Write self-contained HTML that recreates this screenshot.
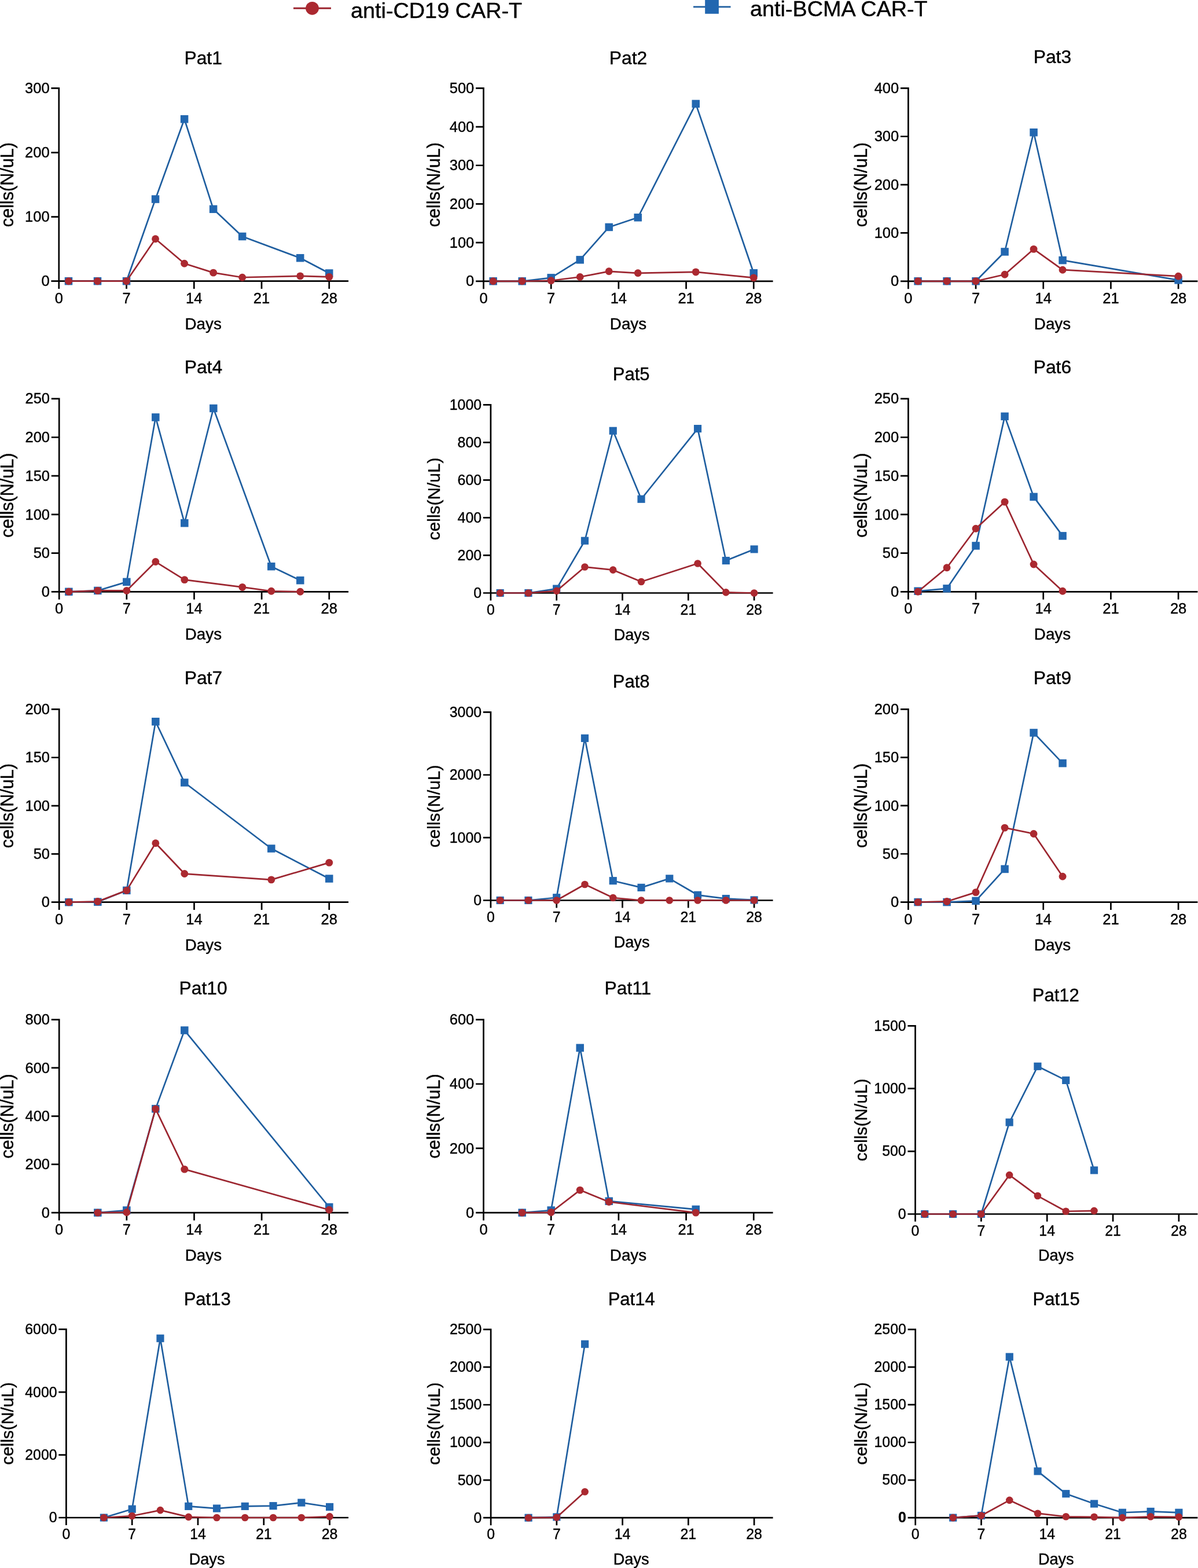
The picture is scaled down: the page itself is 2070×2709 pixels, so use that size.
<!DOCTYPE html>
<html><head><meta charset="utf-8"><title>CAR-T expansion</title>
<style>html,body{margin:0;padding:0;background:#fff;}svg{display:block;}text{stroke:#000;stroke-width:0.4px;}</style>
</head><body>
<svg width="2070" height="2709" viewBox="0 0 2070 2709" font-family='"Liberation Sans", Arial, Helvetica, sans-serif' fill="#000">
<rect width="2070" height="2709" fill="#fff"/>
<path d="M507 14.3H572" stroke="#9c2630" stroke-width="3"/>
<circle cx="539.5" cy="14.3" r="11.4" fill="#ab2930"/>
<text x="606" y="31.3" font-size="37.8">anti-CD19 CAR-T</text>
<path d="M1198 11.9H1262.5" stroke="#1f5e9f" stroke-width="2.8"/>
<rect x="1218.2" y="0" width="23.7" height="23.8" fill="#2267b0"/>
<text x="1296" y="27.5" font-size="37.8">anti-BCMA CAR-T</text>
<g>
<path d="M101.80 151.10V499.10M88.40 485.70H602.10M88.40 374.62H101.80M88.40 263.53H101.80M88.40 152.45H101.80M218.54 485.70V499.10M335.27 485.70V499.10M452.01 485.70V499.10M568.75 485.70V499.10" stroke="#000" stroke-width="2.7" fill="none"/>
<text x="85.60" y="494.30" text-anchor="end" font-size="25.50">0</text>
<text x="85.60" y="383.22" text-anchor="end" font-size="25.50">100</text>
<text x="85.60" y="272.13" text-anchor="end" font-size="25.50">200</text>
<text x="85.60" y="161.05" text-anchor="end" font-size="25.50">300</text>
<text x="101.80" y="523.70" text-anchor="middle" font-size="25.50">0</text>
<text x="218.54" y="523.70" text-anchor="middle" font-size="25.50">7</text>
<text x="335.27" y="523.70" text-anchor="middle" font-size="25.50">14</text>
<text x="452.01" y="523.70" text-anchor="middle" font-size="25.50">21</text>
<text x="568.75" y="523.70" text-anchor="middle" font-size="25.50">28</text>
<text x="318.44" y="110.70" font-size="31.80">Pat1</text>
<text x="319.52" y="568.90" font-size="27.80">Days</text>
<text transform="translate(22.80 319.07) rotate(-90)" x="0" y="0" text-anchor="middle" font-size="30.60">cells(N/uL)</text>
<polyline points="118.48,485.70 168.51,485.70 218.54,485.70 268.57,344.07 318.60,205.77 368.63,361.29 418.66,408.50 518.72,445.71 568.75,472.04" fill="none" stroke="#1f5e9f" stroke-width="2.7" stroke-linejoin="round"/>
<rect x="111.73" y="478.95" width="13.50" height="13.50" fill="#2267b0"/>
<rect x="161.76" y="478.95" width="13.50" height="13.50" fill="#2267b0"/>
<rect x="211.79" y="478.95" width="13.50" height="13.50" fill="#2267b0"/>
<rect x="261.82" y="337.32" width="13.50" height="13.50" fill="#2267b0"/>
<rect x="311.85" y="199.02" width="13.50" height="13.50" fill="#2267b0"/>
<rect x="361.88" y="354.54" width="13.50" height="13.50" fill="#2267b0"/>
<rect x="411.91" y="401.75" width="13.50" height="13.50" fill="#2267b0"/>
<rect x="511.97" y="438.96" width="13.50" height="13.50" fill="#2267b0"/>
<rect x="562.00" y="465.29" width="13.50" height="13.50" fill="#2267b0"/>
<polyline points="118.48,485.70 168.51,485.70 218.54,485.70 268.57,412.72 318.60,455.26 368.63,471.15 418.66,479.26 518.72,476.92 568.75,478.37" fill="none" stroke="#9c2630" stroke-width="2.7" stroke-linejoin="round"/>
<circle cx="118.48" cy="485.70" r="6.45" fill="#ab2930"/>
<circle cx="168.51" cy="485.70" r="6.45" fill="#ab2930"/>
<circle cx="218.54" cy="485.70" r="6.45" fill="#ab2930"/>
<circle cx="268.57" cy="412.72" r="6.45" fill="#ab2930"/>
<circle cx="318.60" cy="455.26" r="6.45" fill="#ab2930"/>
<circle cx="368.63" cy="471.15" r="6.45" fill="#ab2930"/>
<circle cx="418.66" cy="479.26" r="6.45" fill="#ab2930"/>
<circle cx="518.72" cy="476.92" r="6.45" fill="#ab2930"/>
<circle cx="568.75" cy="478.37" r="6.45" fill="#ab2930"/>
</g>
<g>
<path d="M835.50 151.05V499.20M822.10 485.80H1335.60M822.10 419.12H835.50M822.10 352.44H835.50M822.10 285.76H835.50M822.10 219.08H835.50M822.10 152.40H835.50M952.19 485.80V499.20M1068.88 485.80V499.20M1185.57 485.80V499.20M1302.26 485.80V499.20" stroke="#000" stroke-width="2.7" fill="none"/>
<text x="819.30" y="494.40" text-anchor="end" font-size="25.50">0</text>
<text x="819.30" y="427.72" text-anchor="end" font-size="25.50">100</text>
<text x="819.30" y="361.04" text-anchor="end" font-size="25.50">200</text>
<text x="819.30" y="294.36" text-anchor="end" font-size="25.50">300</text>
<text x="819.30" y="227.68" text-anchor="end" font-size="25.50">400</text>
<text x="819.30" y="161" text-anchor="end" font-size="25.50">500</text>
<text x="835.50" y="523.80" text-anchor="middle" font-size="25.50">0</text>
<text x="952.19" y="523.80" text-anchor="middle" font-size="25.50">7</text>
<text x="1068.88" y="523.80" text-anchor="middle" font-size="25.50">14</text>
<text x="1185.57" y="523.80" text-anchor="middle" font-size="25.50">21</text>
<text x="1302.26" y="523.80" text-anchor="middle" font-size="25.50">28</text>
<text x="1052.79" y="110.80" font-size="31.80">Pat2</text>
<text x="1053.82" y="568.90" font-size="27.80">Days</text>
<text transform="translate(759.70 319.10) rotate(-90)" x="0" y="0" text-anchor="middle" font-size="30.60">cells(N/uL)</text>
<polyline points="852.17,485.80 902.18,485.80 952.19,479.87 1002.20,448.86 1052.21,392.45 1102.22,375.78 1202.24,179.34 1302.26,471.80" fill="none" stroke="#1f5e9f" stroke-width="2.7" stroke-linejoin="round"/>
<rect x="845.42" y="479.05" width="13.50" height="13.50" fill="#2267b0"/>
<rect x="895.43" y="479.05" width="13.50" height="13.50" fill="#2267b0"/>
<rect x="945.44" y="473.12" width="13.50" height="13.50" fill="#2267b0"/>
<rect x="995.45" y="442.11" width="13.50" height="13.50" fill="#2267b0"/>
<rect x="1045.46" y="385.70" width="13.50" height="13.50" fill="#2267b0"/>
<rect x="1095.47" y="369.03" width="13.50" height="13.50" fill="#2267b0"/>
<rect x="1195.49" y="172.59" width="13.50" height="13.50" fill="#2267b0"/>
<rect x="1295.51" y="465.05" width="13.50" height="13.50" fill="#2267b0"/>
<polyline points="852.17,485.80 902.18,485.80 952.19,484.73 1002.20,478.47 1052.21,468.80 1102.22,471.80 1202.24,469.93 1302.26,479.87" fill="none" stroke="#9c2630" stroke-width="2.7" stroke-linejoin="round"/>
<circle cx="852.17" cy="485.80" r="6.45" fill="#ab2930"/>
<circle cx="902.18" cy="485.80" r="6.45" fill="#ab2930"/>
<circle cx="952.19" cy="484.73" r="6.45" fill="#ab2930"/>
<circle cx="1002.20" cy="478.47" r="6.45" fill="#ab2930"/>
<circle cx="1052.21" cy="468.80" r="6.45" fill="#ab2930"/>
<circle cx="1102.22" cy="471.80" r="6.45" fill="#ab2930"/>
<circle cx="1202.24" cy="469.93" r="6.45" fill="#ab2930"/>
<circle cx="1302.26" cy="479.87" r="6.45" fill="#ab2930"/>
</g>
<g>
<path d="M1569.40 151.05V499.20M1556 485.80H2069.40M1556 402.45H1569.40M1556 319.10H1569.40M1556 235.75H1569.40M1556 152.40H1569.40M1686.07 485.80V499.20M1802.73 485.80V499.20M1919.40 485.80V499.20M2036.07 485.80V499.20" stroke="#000" stroke-width="2.7" fill="none"/>
<text x="1553.20" y="494.40" text-anchor="end" font-size="25.50">0</text>
<text x="1553.20" y="411.05" text-anchor="end" font-size="25.50">100</text>
<text x="1553.20" y="327.70" text-anchor="end" font-size="25.50">200</text>
<text x="1553.20" y="244.35" text-anchor="end" font-size="25.50">300</text>
<text x="1553.20" y="161" text-anchor="end" font-size="25.50">400</text>
<text x="1569.40" y="523.80" text-anchor="middle" font-size="25.50">0</text>
<text x="1686.07" y="523.80" text-anchor="middle" font-size="25.50">7</text>
<text x="1802.73" y="523.80" text-anchor="middle" font-size="25.50">14</text>
<text x="1919.40" y="523.80" text-anchor="middle" font-size="25.50">21</text>
<text x="2036.07" y="523.80" text-anchor="middle" font-size="25.50">28</text>
<text x="1785.69" y="108.90" font-size="31.80">Pat3</text>
<text x="1786.82" y="568.90" font-size="27.80">Days</text>
<text transform="translate(1497.80 319.10) rotate(-90)" x="0" y="0" text-anchor="middle" font-size="30.60">cells(N/uL)</text>
<polyline points="1586.07,485.80 1636.07,485.80 1686.07,485.80 1736.07,434.96 1786.07,228.75 1836.07,449.63 2036.07,483.88" fill="none" stroke="#1f5e9f" stroke-width="2.7" stroke-linejoin="round"/>
<rect x="1579.32" y="479.05" width="13.50" height="13.50" fill="#2267b0"/>
<rect x="1629.32" y="479.05" width="13.50" height="13.50" fill="#2267b0"/>
<rect x="1679.32" y="479.05" width="13.50" height="13.50" fill="#2267b0"/>
<rect x="1729.32" y="428.21" width="13.50" height="13.50" fill="#2267b0"/>
<rect x="1779.32" y="222.00" width="13.50" height="13.50" fill="#2267b0"/>
<rect x="1829.32" y="442.88" width="13.50" height="13.50" fill="#2267b0"/>
<rect x="2029.32" y="477.13" width="13.50" height="13.50" fill="#2267b0"/>
<polyline points="1586.07,485.80 1636.07,485.80 1686.07,485.80 1736.07,474.30 1786.07,430.37 1836.07,466.21 2036.07,477.30" fill="none" stroke="#9c2630" stroke-width="2.7" stroke-linejoin="round"/>
<circle cx="1586.07" cy="485.80" r="6.45" fill="#ab2930"/>
<circle cx="1636.07" cy="485.80" r="6.45" fill="#ab2930"/>
<circle cx="1686.07" cy="485.80" r="6.45" fill="#ab2930"/>
<circle cx="1736.07" cy="474.30" r="6.45" fill="#ab2930"/>
<circle cx="1786.07" cy="430.37" r="6.45" fill="#ab2930"/>
<circle cx="1836.07" cy="466.21" r="6.45" fill="#ab2930"/>
<circle cx="2036.07" cy="477.30" r="6.45" fill="#ab2930"/>
</g>
<g>
<path d="M102.20 687.45V1035.70M88.80 1022.30H602.10M88.80 955.60H102.20M88.80 888.90H102.20M88.80 822.20H102.20M88.80 755.50H102.20M88.80 688.80H102.20M218.84 1022.30V1035.70M335.49 1022.30V1035.70M452.13 1022.30V1035.70M568.77 1022.30V1035.70" stroke="#000" stroke-width="2.7" fill="none"/>
<text x="86" y="1030.90" text-anchor="end" font-size="25.50">0</text>
<text x="86" y="964.20" text-anchor="end" font-size="25.50">50</text>
<text x="86" y="897.50" text-anchor="end" font-size="25.50">100</text>
<text x="86" y="830.80" text-anchor="end" font-size="25.50">150</text>
<text x="86" y="764.10" text-anchor="end" font-size="25.50">200</text>
<text x="86" y="697.40" text-anchor="end" font-size="25.50">250</text>
<text x="102.20" y="1060.30" text-anchor="middle" font-size="25.50">0</text>
<text x="218.84" y="1060.30" text-anchor="middle" font-size="25.50">7</text>
<text x="335.49" y="1060.30" text-anchor="middle" font-size="25.50">14</text>
<text x="452.13" y="1060.30" text-anchor="middle" font-size="25.50">21</text>
<text x="568.77" y="1060.30" text-anchor="middle" font-size="25.50">28</text>
<text x="318.69" y="644.80" font-size="31.80">Pat4</text>
<text x="319.72" y="1104.60" font-size="27.80">Days</text>
<text transform="translate(22.80 855.55) rotate(-90)" x="0" y="0" text-anchor="middle" font-size="30.60">cells(N/uL)</text>
<polyline points="118.86,1022.30 168.85,1020.43 218.84,1005.36 268.83,720.95 318.82,903.71 368.81,705.47 468.79,978.68 518.78,1002.69" fill="none" stroke="#1f5e9f" stroke-width="2.7" stroke-linejoin="round"/>
<rect x="112.11" y="1015.55" width="13.50" height="13.50" fill="#2267b0"/>
<rect x="162.10" y="1013.68" width="13.50" height="13.50" fill="#2267b0"/>
<rect x="212.09" y="998.61" width="13.50" height="13.50" fill="#2267b0"/>
<rect x="262.08" y="714.20" width="13.50" height="13.50" fill="#2267b0"/>
<rect x="312.07" y="896.96" width="13.50" height="13.50" fill="#2267b0"/>
<rect x="362.06" y="698.72" width="13.50" height="13.50" fill="#2267b0"/>
<rect x="462.04" y="971.93" width="13.50" height="13.50" fill="#2267b0"/>
<rect x="512.03" y="995.94" width="13.50" height="13.50" fill="#2267b0"/>
<polyline points="118.86,1022.30 168.85,1020.43 218.84,1020.43 268.83,970.54 318.82,1001.62 418.80,1014.43 468.79,1021.23 518.78,1022.30" fill="none" stroke="#9c2630" stroke-width="2.7" stroke-linejoin="round"/>
<circle cx="118.86" cy="1022.30" r="6.45" fill="#ab2930"/>
<circle cx="168.85" cy="1020.43" r="6.45" fill="#ab2930"/>
<circle cx="218.84" cy="1020.43" r="6.45" fill="#ab2930"/>
<circle cx="268.83" cy="970.54" r="6.45" fill="#ab2930"/>
<circle cx="318.82" cy="1001.62" r="6.45" fill="#ab2930"/>
<circle cx="418.80" cy="1014.43" r="6.45" fill="#ab2930"/>
<circle cx="468.79" cy="1021.23" r="6.45" fill="#ab2930"/>
<circle cx="518.78" cy="1022.30" r="6.45" fill="#ab2930"/>
</g>
<g>
<path d="M847.90 697.95V1037.58M834.82 1024.50H1335.60M834.82 959.46H847.90M834.82 894.42H847.90M834.82 829.38H847.90M834.82 764.34H847.90M834.82 699.30H847.90M961.70 1024.50V1037.58M1075.49 1024.50V1037.58M1189.29 1024.50V1037.58M1303.09 1024.50V1037.58" stroke="#000" stroke-width="2.7" fill="none"/>
<text x="832.09" y="1032.89" text-anchor="end" font-size="24.89">0</text>
<text x="832.09" y="967.85" text-anchor="end" font-size="24.89">200</text>
<text x="832.09" y="902.81" text-anchor="end" font-size="24.89">400</text>
<text x="832.09" y="837.77" text-anchor="end" font-size="24.89">600</text>
<text x="832.09" y="772.73" text-anchor="end" font-size="24.89">800</text>
<text x="832.09" y="707.69" text-anchor="end" font-size="24.89">1000</text>
<text x="847.90" y="1061.59" text-anchor="middle" font-size="24.89">0</text>
<text x="961.70" y="1061.59" text-anchor="middle" font-size="24.89">7</text>
<text x="1075.49" y="1061.59" text-anchor="middle" font-size="24.89">14</text>
<text x="1189.29" y="1061.59" text-anchor="middle" font-size="24.89">21</text>
<text x="1303.09" y="1061.59" text-anchor="middle" font-size="24.89">28</text>
<text x="1058.75" y="656.70" font-size="31.04">Pat5</text>
<text x="1060.68" y="1105.70" font-size="27.13">Days</text>
<text transform="translate(759.70 861.90) rotate(-90)" x="0" y="0" text-anchor="middle" font-size="29.87">cells(N/uL)</text>
<polyline points="864.16,1024.50 912.93,1024.50 961.70,1017.12 1010.47,934.22 1059.24,744.28 1108.01,862.26 1205.55,740.60 1254.32,968.57 1303.09,948.89" fill="none" stroke="#1f5e9f" stroke-width="2.7" stroke-linejoin="round"/>
<rect x="857.57" y="1017.91" width="13.18" height="13.18" fill="#2267b0"/>
<rect x="906.34" y="1017.91" width="13.18" height="13.18" fill="#2267b0"/>
<rect x="955.11" y="1010.53" width="13.18" height="13.18" fill="#2267b0"/>
<rect x="1003.88" y="927.64" width="13.18" height="13.18" fill="#2267b0"/>
<rect x="1052.65" y="737.69" width="13.18" height="13.18" fill="#2267b0"/>
<rect x="1101.42" y="855.67" width="13.18" height="13.18" fill="#2267b0"/>
<rect x="1198.96" y="734.01" width="13.18" height="13.18" fill="#2267b0"/>
<rect x="1247.73" y="961.98" width="13.18" height="13.18" fill="#2267b0"/>
<rect x="1296.50" y="942.30" width="13.18" height="13.18" fill="#2267b0"/>
<polyline points="864.16,1024.50 912.93,1024.50 961.70,1020.92 1010.47,979.43 1059.24,984.63 1108.01,1004.99 1205.55,973.54 1254.32,1023.39 1303.09,1024.50" fill="none" stroke="#9c2630" stroke-width="2.7" stroke-linejoin="round"/>
<circle cx="864.16" cy="1024.50" r="6.30" fill="#ab2930"/>
<circle cx="912.93" cy="1024.50" r="6.30" fill="#ab2930"/>
<circle cx="961.70" cy="1020.92" r="6.30" fill="#ab2930"/>
<circle cx="1010.47" cy="979.43" r="6.30" fill="#ab2930"/>
<circle cx="1059.24" cy="984.63" r="6.30" fill="#ab2930"/>
<circle cx="1108.01" cy="1004.99" r="6.30" fill="#ab2930"/>
<circle cx="1205.55" cy="973.54" r="6.30" fill="#ab2930"/>
<circle cx="1254.32" cy="1023.39" r="6.30" fill="#ab2930"/>
<circle cx="1303.09" cy="1024.50" r="6.30" fill="#ab2930"/>
</g>
<g>
<path d="M1569.40 687.45V1035.70M1556 1022.30H2069.40M1556 955.60H1569.40M1556 888.90H1569.40M1556 822.20H1569.40M1556 755.50H1569.40M1556 688.80H1569.40M1686.07 1022.30V1035.70M1802.73 1022.30V1035.70M1919.40 1022.30V1035.70M2036.07 1022.30V1035.70" stroke="#000" stroke-width="2.7" fill="none"/>
<text x="1553.20" y="1030.90" text-anchor="end" font-size="25.50">0</text>
<text x="1553.20" y="964.20" text-anchor="end" font-size="25.50">50</text>
<text x="1553.20" y="897.50" text-anchor="end" font-size="25.50">100</text>
<text x="1553.20" y="830.80" text-anchor="end" font-size="25.50">150</text>
<text x="1553.20" y="764.10" text-anchor="end" font-size="25.50">200</text>
<text x="1553.20" y="697.40" text-anchor="end" font-size="25.50">250</text>
<text x="1569.40" y="1060.30" text-anchor="middle" font-size="25.50">0</text>
<text x="1686.07" y="1060.30" text-anchor="middle" font-size="25.50">7</text>
<text x="1802.73" y="1060.30" text-anchor="middle" font-size="25.50">14</text>
<text x="1919.40" y="1060.30" text-anchor="middle" font-size="25.50">21</text>
<text x="2036.07" y="1060.30" text-anchor="middle" font-size="25.50">28</text>
<text x="1785.69" y="644.80" font-size="31.80">Pat6</text>
<text x="1786.82" y="1104.60" font-size="27.80">Days</text>
<text transform="translate(1497.80 855.55) rotate(-90)" x="0" y="0" text-anchor="middle" font-size="30.60">cells(N/uL)</text>
<polyline points="1586.07,1021.23 1636.07,1016.83 1686.07,942.93 1736.07,719.35 1786.07,858.35 1836.07,925.85" fill="none" stroke="#1f5e9f" stroke-width="2.7" stroke-linejoin="round"/>
<rect x="1579.32" y="1014.48" width="13.50" height="13.50" fill="#2267b0"/>
<rect x="1629.32" y="1010.08" width="13.50" height="13.50" fill="#2267b0"/>
<rect x="1679.32" y="936.18" width="13.50" height="13.50" fill="#2267b0"/>
<rect x="1729.32" y="712.60" width="13.50" height="13.50" fill="#2267b0"/>
<rect x="1779.32" y="851.60" width="13.50" height="13.50" fill="#2267b0"/>
<rect x="1829.32" y="919.10" width="13.50" height="13.50" fill="#2267b0"/>
<polyline points="1586.07,1022.30 1636.07,980.81 1686.07,913.31 1736.07,867.16 1786.07,974.94 1836.07,1021.23" fill="none" stroke="#9c2630" stroke-width="2.7" stroke-linejoin="round"/>
<circle cx="1586.07" cy="1022.30" r="6.45" fill="#ab2930"/>
<circle cx="1636.07" cy="980.81" r="6.45" fill="#ab2930"/>
<circle cx="1686.07" cy="913.31" r="6.45" fill="#ab2930"/>
<circle cx="1736.07" cy="867.16" r="6.45" fill="#ab2930"/>
<circle cx="1786.07" cy="974.94" r="6.45" fill="#ab2930"/>
<circle cx="1836.07" cy="1021.23" r="6.45" fill="#ab2930"/>
</g>
<g>
<path d="M102.20 1224.05V1572.10M88.80 1558.70H602.10M88.80 1475.38H102.20M88.80 1392.05H102.20M88.80 1308.73H102.20M88.80 1225.40H102.20M218.84 1558.70V1572.10M335.49 1558.70V1572.10M452.13 1558.70V1572.10M568.77 1558.70V1572.10" stroke="#000" stroke-width="2.7" fill="none"/>
<text x="86" y="1567.30" text-anchor="end" font-size="25.50">0</text>
<text x="86" y="1483.97" text-anchor="end" font-size="25.50">50</text>
<text x="86" y="1400.65" text-anchor="end" font-size="25.50">100</text>
<text x="86" y="1317.33" text-anchor="end" font-size="25.50">150</text>
<text x="86" y="1234" text-anchor="end" font-size="25.50">200</text>
<text x="102.20" y="1596.70" text-anchor="middle" font-size="25.50">0</text>
<text x="218.84" y="1596.70" text-anchor="middle" font-size="25.50">7</text>
<text x="335.49" y="1596.70" text-anchor="middle" font-size="25.50">14</text>
<text x="452.13" y="1596.70" text-anchor="middle" font-size="25.50">21</text>
<text x="568.77" y="1596.70" text-anchor="middle" font-size="25.50">28</text>
<text x="318.69" y="1181.50" font-size="31.80">Pat7</text>
<text x="319.72" y="1641.60" font-size="27.80">Days</text>
<text transform="translate(22.80 1392.05) rotate(-90)" x="0" y="0" text-anchor="middle" font-size="30.60">cells(N/uL)</text>
<polyline points="118.86,1558.70 168.85,1558.20 218.84,1538.37 268.83,1246.73 318.82,1352.05 468.79,1466.04 568.77,1518.04" fill="none" stroke="#1f5e9f" stroke-width="2.7" stroke-linejoin="round"/>
<rect x="112.11" y="1551.95" width="13.50" height="13.50" fill="#2267b0"/>
<rect x="162.10" y="1551.45" width="13.50" height="13.50" fill="#2267b0"/>
<rect x="212.09" y="1531.62" width="13.50" height="13.50" fill="#2267b0"/>
<rect x="262.08" y="1239.98" width="13.50" height="13.50" fill="#2267b0"/>
<rect x="312.07" y="1345.30" width="13.50" height="13.50" fill="#2267b0"/>
<rect x="462.04" y="1459.29" width="13.50" height="13.50" fill="#2267b0"/>
<rect x="562.02" y="1511.29" width="13.50" height="13.50" fill="#2267b0"/>
<polyline points="118.86,1558.70 168.85,1557.53 218.84,1538.37 268.83,1456.71 318.82,1509.54 468.79,1519.87 568.77,1490.37" fill="none" stroke="#9c2630" stroke-width="2.7" stroke-linejoin="round"/>
<circle cx="118.86" cy="1558.70" r="6.45" fill="#ab2930"/>
<circle cx="168.85" cy="1557.53" r="6.45" fill="#ab2930"/>
<circle cx="218.84" cy="1538.37" r="6.45" fill="#ab2930"/>
<circle cx="268.83" cy="1456.71" r="6.45" fill="#ab2930"/>
<circle cx="318.82" cy="1509.54" r="6.45" fill="#ab2930"/>
<circle cx="468.79" cy="1519.87" r="6.45" fill="#ab2930"/>
<circle cx="568.77" cy="1490.37" r="6.45" fill="#ab2930"/>
</g>
<g>
<path d="M847.90 1229.05V1568.58M834.82 1555.50H1335.60M834.82 1447.13H847.90M834.82 1338.77H847.90M834.82 1230.40H847.90M961.70 1555.50V1568.58M1075.49 1555.50V1568.58M1189.29 1555.50V1568.58M1303.09 1555.50V1568.58" stroke="#000" stroke-width="2.7" fill="none"/>
<text x="832.09" y="1563.89" text-anchor="end" font-size="24.89">0</text>
<text x="832.09" y="1455.53" text-anchor="end" font-size="24.89">1000</text>
<text x="832.09" y="1347.16" text-anchor="end" font-size="24.89">2000</text>
<text x="832.09" y="1238.79" text-anchor="end" font-size="24.89">3000</text>
<text x="847.90" y="1592.59" text-anchor="middle" font-size="24.89">0</text>
<text x="961.70" y="1592.59" text-anchor="middle" font-size="24.89">7</text>
<text x="1075.49" y="1592.59" text-anchor="middle" font-size="24.89">14</text>
<text x="1189.29" y="1592.59" text-anchor="middle" font-size="24.89">21</text>
<text x="1303.09" y="1592.59" text-anchor="middle" font-size="24.89">28</text>
<text x="1058.75" y="1187.60" font-size="31.04">Pat8</text>
<text x="1060.68" y="1636.80" font-size="27.13">Days</text>
<text transform="translate(759.70 1392.95) rotate(-90)" x="0" y="0" text-anchor="middle" font-size="29.87">cells(N/uL)</text>
<polyline points="864.16,1555.50 912.93,1555.50 961.70,1550.73 1010.47,1275.37 1059.24,1521.69 1108.01,1533.39 1156.78,1517.90 1205.55,1546.29 1254.32,1552.57 1303.09,1554.96" fill="none" stroke="#1f5e9f" stroke-width="2.7" stroke-linejoin="round"/>
<rect x="857.57" y="1548.91" width="13.18" height="13.18" fill="#2267b0"/>
<rect x="906.34" y="1548.91" width="13.18" height="13.18" fill="#2267b0"/>
<rect x="955.11" y="1544.14" width="13.18" height="13.18" fill="#2267b0"/>
<rect x="1003.88" y="1268.78" width="13.18" height="13.18" fill="#2267b0"/>
<rect x="1052.65" y="1515.10" width="13.18" height="13.18" fill="#2267b0"/>
<rect x="1101.42" y="1526.81" width="13.18" height="13.18" fill="#2267b0"/>
<rect x="1150.19" y="1511.31" width="13.18" height="13.18" fill="#2267b0"/>
<rect x="1198.96" y="1539.70" width="13.18" height="13.18" fill="#2267b0"/>
<rect x="1247.73" y="1545.99" width="13.18" height="13.18" fill="#2267b0"/>
<rect x="1296.50" y="1548.37" width="13.18" height="13.18" fill="#2267b0"/>
<polyline points="864.16,1555.50 912.93,1555.50 961.70,1555.50 1010.47,1527.97 1059.24,1551.06 1108.01,1555.50 1156.78,1555.50 1205.55,1555.50 1254.32,1555.50 1303.09,1555.50" fill="none" stroke="#9c2630" stroke-width="2.7" stroke-linejoin="round"/>
<circle cx="864.16" cy="1555.50" r="6.30" fill="#ab2930"/>
<circle cx="912.93" cy="1555.50" r="6.30" fill="#ab2930"/>
<circle cx="961.70" cy="1555.50" r="6.30" fill="#ab2930"/>
<circle cx="1010.47" cy="1527.97" r="6.30" fill="#ab2930"/>
<circle cx="1059.24" cy="1551.06" r="6.30" fill="#ab2930"/>
<circle cx="1108.01" cy="1555.50" r="6.30" fill="#ab2930"/>
<circle cx="1156.78" cy="1555.50" r="6.30" fill="#ab2930"/>
<circle cx="1205.55" cy="1555.50" r="6.30" fill="#ab2930"/>
<circle cx="1254.32" cy="1555.50" r="6.30" fill="#ab2930"/>
<circle cx="1303.09" cy="1555.50" r="6.30" fill="#ab2930"/>
</g>
<g>
<path d="M1569.40 1223.95V1572M1556 1558.60H2069.40M1556 1475.27H1569.40M1556 1391.95H1569.40M1556 1308.62H1569.40M1556 1225.30H1569.40M1686.07 1558.60V1572M1802.73 1558.60V1572M1919.40 1558.60V1572M2036.07 1558.60V1572" stroke="#000" stroke-width="2.7" fill="none"/>
<text x="1553.20" y="1567.20" text-anchor="end" font-size="25.50">0</text>
<text x="1553.20" y="1483.87" text-anchor="end" font-size="25.50">50</text>
<text x="1553.20" y="1400.55" text-anchor="end" font-size="25.50">100</text>
<text x="1553.20" y="1317.22" text-anchor="end" font-size="25.50">150</text>
<text x="1553.20" y="1233.90" text-anchor="end" font-size="25.50">200</text>
<text x="1569.40" y="1596.60" text-anchor="middle" font-size="25.50">0</text>
<text x="1686.07" y="1596.60" text-anchor="middle" font-size="25.50">7</text>
<text x="1802.73" y="1596.60" text-anchor="middle" font-size="25.50">14</text>
<text x="1919.40" y="1596.60" text-anchor="middle" font-size="25.50">21</text>
<text x="2036.07" y="1596.60" text-anchor="middle" font-size="25.50">28</text>
<text x="1785.69" y="1181.50" font-size="31.80">Pat9</text>
<text x="1786.82" y="1641.60" font-size="27.80">Days</text>
<text transform="translate(1497.80 1391.95) rotate(-90)" x="0" y="0" text-anchor="middle" font-size="30.60">cells(N/uL)</text>
<polyline points="1586.07,1558.60 1636.07,1558.60 1686.07,1556.43 1736.07,1501.44 1786.07,1265.96 1836.07,1318.62" fill="none" stroke="#1f5e9f" stroke-width="2.7" stroke-linejoin="round"/>
<rect x="1579.32" y="1551.85" width="13.50" height="13.50" fill="#2267b0"/>
<rect x="1629.32" y="1551.85" width="13.50" height="13.50" fill="#2267b0"/>
<rect x="1679.32" y="1549.68" width="13.50" height="13.50" fill="#2267b0"/>
<rect x="1729.32" y="1494.69" width="13.50" height="13.50" fill="#2267b0"/>
<rect x="1779.32" y="1259.21" width="13.50" height="13.50" fill="#2267b0"/>
<rect x="1829.32" y="1311.87" width="13.50" height="13.50" fill="#2267b0"/>
<polyline points="1586.07,1558.60 1636.07,1557.43 1686.07,1541.60 1736.07,1430.11 1786.07,1440.45 1836.07,1514.27" fill="none" stroke="#9c2630" stroke-width="2.7" stroke-linejoin="round"/>
<circle cx="1586.07" cy="1558.60" r="6.45" fill="#ab2930"/>
<circle cx="1636.07" cy="1557.43" r="6.45" fill="#ab2930"/>
<circle cx="1686.07" cy="1541.60" r="6.45" fill="#ab2930"/>
<circle cx="1736.07" cy="1430.11" r="6.45" fill="#ab2930"/>
<circle cx="1786.07" cy="1440.45" r="6.45" fill="#ab2930"/>
<circle cx="1836.07" cy="1514.27" r="6.45" fill="#ab2930"/>
</g>
<g>
<path d="M102.20 1760.25V2108.50M88.80 2095.10H602.10M88.80 2011.72H102.20M88.80 1928.35H102.20M88.80 1844.97H102.20M88.80 1761.60H102.20M218.84 2095.10V2108.50M335.49 2095.10V2108.50M452.13 2095.10V2108.50M568.77 2095.10V2108.50" stroke="#000" stroke-width="2.7" fill="none"/>
<text x="86" y="2103.70" text-anchor="end" font-size="25.50">0</text>
<text x="86" y="2020.32" text-anchor="end" font-size="25.50">200</text>
<text x="86" y="1936.95" text-anchor="end" font-size="25.50">400</text>
<text x="86" y="1853.57" text-anchor="end" font-size="25.50">600</text>
<text x="86" y="1770.20" text-anchor="end" font-size="25.50">800</text>
<text x="102.20" y="2133.10" text-anchor="middle" font-size="25.50">0</text>
<text x="218.84" y="2133.10" text-anchor="middle" font-size="25.50">7</text>
<text x="335.49" y="2133.10" text-anchor="middle" font-size="25.50">14</text>
<text x="452.13" y="2133.10" text-anchor="middle" font-size="25.50">21</text>
<text x="568.77" y="2133.10" text-anchor="middle" font-size="25.50">28</text>
<text x="309.49" y="1717.70" font-size="31.80">Pat10</text>
<text x="319.72" y="2177.70" font-size="27.80">Days</text>
<text transform="translate(22.80 1928.35) rotate(-90)" x="0" y="0" text-anchor="middle" font-size="30.60">cells(N/uL)</text>
<polyline points="168.85,2095.10 218.84,2091.01 268.83,1915.64 318.82,1780.03 568.77,2085.51" fill="none" stroke="#1f5e9f" stroke-width="2.7" stroke-linejoin="round"/>
<rect x="162.10" y="2088.35" width="13.50" height="13.50" fill="#2267b0"/>
<rect x="212.09" y="2084.26" width="13.50" height="13.50" fill="#2267b0"/>
<rect x="262.08" y="1908.89" width="13.50" height="13.50" fill="#2267b0"/>
<rect x="312.07" y="1773.28" width="13.50" height="13.50" fill="#2267b0"/>
<rect x="562.02" y="2078.76" width="13.50" height="13.50" fill="#2267b0"/>
<polyline points="168.85,2095.10 218.84,2094.47 268.83,1915.84 318.82,2020.15 568.77,2090.31" fill="none" stroke="#9c2630" stroke-width="2.7" stroke-linejoin="round"/>
<circle cx="168.85" cy="2095.10" r="6.45" fill="#ab2930"/>
<circle cx="218.84" cy="2094.47" r="6.45" fill="#ab2930"/>
<circle cx="268.83" cy="1915.84" r="6.45" fill="#ab2930"/>
<circle cx="318.82" cy="2020.15" r="6.45" fill="#ab2930"/>
<circle cx="568.77" cy="2090.31" r="6.45" fill="#ab2930"/>
</g>
<g>
<path d="M835.50 1760.25V2108.50M822.10 2095.10H1335.60M822.10 1983.93H835.50M822.10 1872.77H835.50M822.10 1761.60H835.50M952.19 2095.10V2108.50M1068.88 2095.10V2108.50M1185.57 2095.10V2108.50M1302.26 2095.10V2108.50" stroke="#000" stroke-width="2.7" fill="none"/>
<text x="819.30" y="2103.70" text-anchor="end" font-size="25.50">0</text>
<text x="819.30" y="1992.53" text-anchor="end" font-size="25.50">200</text>
<text x="819.30" y="1881.37" text-anchor="end" font-size="25.50">400</text>
<text x="819.30" y="1770.20" text-anchor="end" font-size="25.50">600</text>
<text x="835.50" y="2133.10" text-anchor="middle" font-size="25.50">0</text>
<text x="952.19" y="2133.10" text-anchor="middle" font-size="25.50">7</text>
<text x="1068.88" y="2133.10" text-anchor="middle" font-size="25.50">14</text>
<text x="1185.57" y="2133.10" text-anchor="middle" font-size="25.50">21</text>
<text x="1302.26" y="2133.10" text-anchor="middle" font-size="25.50">28</text>
<text x="1044.49" y="1717.70" font-size="31.80">Pat11</text>
<text x="1053.82" y="2177.70" font-size="27.80">Days</text>
<text transform="translate(759.70 1928.35) rotate(-90)" x="0" y="0" text-anchor="middle" font-size="30.60">cells(N/uL)</text>
<polyline points="902.18,2095.10 952.19,2090.99 1002.20,1810.35 1052.21,2075.20 1202.24,2089.43" fill="none" stroke="#1f5e9f" stroke-width="2.7" stroke-linejoin="round"/>
<rect x="895.43" y="2088.35" width="13.50" height="13.50" fill="#2267b0"/>
<rect x="945.44" y="2084.24" width="13.50" height="13.50" fill="#2267b0"/>
<rect x="995.45" y="1803.60" width="13.50" height="13.50" fill="#2267b0"/>
<rect x="1045.46" y="2068.45" width="13.50" height="13.50" fill="#2267b0"/>
<rect x="1195.49" y="2082.68" width="13.50" height="13.50" fill="#2267b0"/>
<polyline points="902.18,2095.10 952.19,2094.54 1002.20,2056.08 1052.21,2076.48 1202.24,2095.10" fill="none" stroke="#9c2630" stroke-width="2.7" stroke-linejoin="round"/>
<circle cx="902.18" cy="2095.10" r="6.45" fill="#ab2930"/>
<circle cx="952.19" cy="2094.54" r="6.45" fill="#ab2930"/>
<circle cx="1002.20" cy="2056.08" r="6.45" fill="#ab2930"/>
<circle cx="1052.21" cy="2076.48" r="6.45" fill="#ab2930"/>
<circle cx="1202.24" cy="2095.10" r="6.45" fill="#ab2930"/>
</g>
<g>
<path d="M1581.50 1770.95V2110.58M1568.42 2097.50H2069.40M1568.42 1989.10H1581.50M1568.42 1880.70H1581.50M1568.42 1772.30H1581.50M1695.34 2097.50V2110.58M1809.19 2097.50V2110.58M1923.03 2097.50V2110.58M2036.87 2097.50V2110.58" stroke="#000" stroke-width="2.7" fill="none"/>
<text x="1565.69" y="2105.89" text-anchor="end" font-size="24.89">0</text>
<text x="1565.69" y="1997.49" text-anchor="end" font-size="24.89">500</text>
<text x="1565.69" y="1889.09" text-anchor="end" font-size="24.89">1000</text>
<text x="1565.69" y="1780.69" text-anchor="end" font-size="24.89">1500</text>
<text x="1581.50" y="2134.59" text-anchor="middle" font-size="24.89">0</text>
<text x="1695.34" y="2134.59" text-anchor="middle" font-size="24.89">7</text>
<text x="1809.19" y="2134.59" text-anchor="middle" font-size="24.89">14</text>
<text x="1923.03" y="2134.59" text-anchor="middle" font-size="24.89">21</text>
<text x="2036.87" y="2134.59" text-anchor="middle" font-size="24.89">28</text>
<text x="1783.75" y="1729.90" font-size="31.04">Pat12</text>
<text x="1793.88" y="2177.70" font-size="27.13">Days</text>
<text transform="translate(1497.80 1934.90) rotate(-90)" x="0" y="0" text-anchor="middle" font-size="29.87">cells(N/uL)</text>
<polyline points="1597.76,2097.50 1646.55,2097.50 1695.34,2097.50 1744.13,1939.02 1792.92,1842.33 1841.71,1866.39 1890.50,2021.84" fill="none" stroke="#1f5e9f" stroke-width="2.7" stroke-linejoin="round"/>
<rect x="1591.18" y="2090.91" width="13.18" height="13.18" fill="#2267b0"/>
<rect x="1639.97" y="2090.91" width="13.18" height="13.18" fill="#2267b0"/>
<rect x="1688.76" y="2090.91" width="13.18" height="13.18" fill="#2267b0"/>
<rect x="1737.55" y="1932.43" width="13.18" height="13.18" fill="#2267b0"/>
<rect x="1786.34" y="1835.74" width="13.18" height="13.18" fill="#2267b0"/>
<rect x="1835.13" y="1859.80" width="13.18" height="13.18" fill="#2267b0"/>
<rect x="1883.92" y="2015.25" width="13.18" height="13.18" fill="#2267b0"/>
<polyline points="1597.76,2097.50 1646.55,2097.50 1695.34,2097.50 1744.13,2030.08 1792.92,2066.06 1841.71,2092.73 1890.50,2091.86" fill="none" stroke="#9c2630" stroke-width="2.7" stroke-linejoin="round"/>
<circle cx="1597.76" cy="2097.50" r="6.30" fill="#ab2930"/>
<circle cx="1646.55" cy="2097.50" r="6.30" fill="#ab2930"/>
<circle cx="1695.34" cy="2097.50" r="6.30" fill="#ab2930"/>
<circle cx="1744.13" cy="2030.08" r="6.30" fill="#ab2930"/>
<circle cx="1792.92" cy="2066.06" r="6.30" fill="#ab2930"/>
<circle cx="1841.71" cy="2092.73" r="6.30" fill="#ab2930"/>
<circle cx="1890.50" cy="2091.86" r="6.30" fill="#ab2930"/>
</g>
<g>
<path d="M114.40 2295.35V2635.08M101.32 2622H602.10M101.32 2513.57H114.40M101.32 2405.13H114.40M101.32 2296.70H114.40M228.20 2622V2635.08M341.99 2622V2635.08M455.79 2622V2635.08M569.59 2622V2635.08" stroke="#000" stroke-width="2.7" fill="none"/>
<text x="98.59" y="2630.39" text-anchor="end" font-size="24.89">0</text>
<text x="98.59" y="2521.96" text-anchor="end" font-size="24.89">2000</text>
<text x="98.59" y="2413.53" text-anchor="end" font-size="24.89">4000</text>
<text x="98.59" y="2305.09" text-anchor="end" font-size="24.89">6000</text>
<text x="114.40" y="2659.09" text-anchor="middle" font-size="24.89">0</text>
<text x="228.20" y="2659.09" text-anchor="middle" font-size="24.89">7</text>
<text x="341.99" y="2659.09" text-anchor="middle" font-size="24.89">14</text>
<text x="455.79" y="2659.09" text-anchor="middle" font-size="24.89">21</text>
<text x="569.59" y="2659.09" text-anchor="middle" font-size="24.89">28</text>
<text x="317.65" y="2254.90" font-size="31.04">Pat13</text>
<text x="326.68" y="2702.60" font-size="27.13">Days</text>
<text transform="translate(22.80 2459.35) rotate(-90)" x="0" y="0" text-anchor="middle" font-size="29.87">cells(N/uL)</text>
<polyline points="179.43,2622 228.20,2607.20 276.97,2312.21 325.74,2602.37 374.51,2606.06 423.28,2602.37 472.05,2601.67 520.82,2596.08 569.59,2603.46" fill="none" stroke="#1f5e9f" stroke-width="2.7" stroke-linejoin="round"/>
<rect x="172.84" y="2615.41" width="13.18" height="13.18" fill="#2267b0"/>
<rect x="221.61" y="2600.61" width="13.18" height="13.18" fill="#2267b0"/>
<rect x="270.38" y="2305.62" width="13.18" height="13.18" fill="#2267b0"/>
<rect x="319.15" y="2595.79" width="13.18" height="13.18" fill="#2267b0"/>
<rect x="367.92" y="2599.47" width="13.18" height="13.18" fill="#2267b0"/>
<rect x="416.69" y="2595.79" width="13.18" height="13.18" fill="#2267b0"/>
<rect x="465.46" y="2595.08" width="13.18" height="13.18" fill="#2267b0"/>
<rect x="514.23" y="2589.50" width="13.18" height="13.18" fill="#2267b0"/>
<rect x="563.00" y="2596.87" width="13.18" height="13.18" fill="#2267b0"/>
<polyline points="179.43,2622 228.20,2619.02 276.97,2609.10 325.74,2620.92 374.51,2622 423.28,2622 472.05,2622 520.82,2622 569.59,2620.10" fill="none" stroke="#9c2630" stroke-width="2.7" stroke-linejoin="round"/>
<circle cx="179.43" cy="2622" r="6.30" fill="#ab2930"/>
<circle cx="228.20" cy="2619.02" r="6.30" fill="#ab2930"/>
<circle cx="276.97" cy="2609.10" r="6.30" fill="#ab2930"/>
<circle cx="325.74" cy="2620.92" r="6.30" fill="#ab2930"/>
<circle cx="374.51" cy="2622" r="6.30" fill="#ab2930"/>
<circle cx="423.28" cy="2622" r="6.30" fill="#ab2930"/>
<circle cx="472.05" cy="2622" r="6.30" fill="#ab2930"/>
<circle cx="520.82" cy="2622" r="6.30" fill="#ab2930"/>
<circle cx="569.59" cy="2620.10" r="6.30" fill="#ab2930"/>
</g>
<g>
<path d="M848.10 2295.55V2635.28M835.02 2622.20H1335.60M835.02 2557.14H848.10M835.02 2492.08H848.10M835.02 2427.02H848.10M835.02 2361.96H848.10M835.02 2296.90H848.10M961.85 2622.20V2635.28M1075.60 2622.20V2635.28M1189.35 2622.20V2635.28M1303.10 2622.20V2635.28" stroke="#000" stroke-width="2.7" fill="none"/>
<text x="832.29" y="2630.59" text-anchor="end" font-size="24.89">0</text>
<text x="832.29" y="2565.53" text-anchor="end" font-size="24.89">500</text>
<text x="832.29" y="2500.47" text-anchor="end" font-size="24.89">1000</text>
<text x="832.29" y="2435.41" text-anchor="end" font-size="24.89">1500</text>
<text x="832.29" y="2370.35" text-anchor="end" font-size="24.89">2000</text>
<text x="832.29" y="2305.29" text-anchor="end" font-size="24.89">2500</text>
<text x="848.10" y="2659.29" text-anchor="middle" font-size="24.89">0</text>
<text x="961.85" y="2659.29" text-anchor="middle" font-size="24.89">7</text>
<text x="1075.60" y="2659.29" text-anchor="middle" font-size="24.89">14</text>
<text x="1189.35" y="2659.29" text-anchor="middle" font-size="24.89">21</text>
<text x="1303.10" y="2659.29" text-anchor="middle" font-size="24.89">28</text>
<text x="1050.65" y="2254.90" font-size="31.04">Pat14</text>
<text x="1059.78" y="2702.60" font-size="27.13">Days</text>
<text transform="translate(759.70 2459.55) rotate(-90)" x="0" y="0" text-anchor="middle" font-size="29.87">cells(N/uL)</text>
<polyline points="913.10,2622.20 961.85,2620.90 1010.60,2322.14" fill="none" stroke="#1f5e9f" stroke-width="2.7" stroke-linejoin="round"/>
<rect x="906.51" y="2615.61" width="13.18" height="13.18" fill="#2267b0"/>
<rect x="955.26" y="2614.31" width="13.18" height="13.18" fill="#2267b0"/>
<rect x="1004.01" y="2315.56" width="13.18" height="13.18" fill="#2267b0"/>
<polyline points="913.10,2622.20 961.85,2621.55 1010.60,2577.18" fill="none" stroke="#9c2630" stroke-width="2.7" stroke-linejoin="round"/>
<circle cx="913.10" cy="2622.20" r="6.30" fill="#ab2930"/>
<circle cx="961.85" cy="2621.55" r="6.30" fill="#ab2930"/>
<circle cx="1010.60" cy="2577.18" r="6.30" fill="#ab2930"/>
</g>
<g>
<path d="M1581.70 2295.45V2635.18M1568.62 2622.10H2069.40M1568.62 2557.04H1581.70M1568.62 2491.98H1581.70M1568.62 2426.92H1581.70M1568.62 2361.86H1581.70M1568.62 2296.80H1581.70M1695.50 2622.10V2635.18M1809.29 2622.10V2635.18M1923.09 2622.10V2635.18M2036.89 2622.10V2635.18" stroke="#000" stroke-width="2.7" fill="none"/>
<text x="1565.89" y="2630.49" text-anchor="end" font-size="24.89" font-weight="bold">0</text>
<text x="1565.89" y="2565.43" text-anchor="end" font-size="24.89">500</text>
<text x="1565.89" y="2500.37" text-anchor="end" font-size="24.89">1000</text>
<text x="1565.89" y="2435.31" text-anchor="end" font-size="24.89">1500</text>
<text x="1565.89" y="2370.25" text-anchor="end" font-size="24.89">2000</text>
<text x="1565.89" y="2305.19" text-anchor="end" font-size="24.89">2500</text>
<text x="1581.70" y="2659.19" text-anchor="middle" font-size="24.89">0</text>
<text x="1695.50" y="2659.19" text-anchor="middle" font-size="24.89">7</text>
<text x="1809.29" y="2659.19" text-anchor="middle" font-size="24.89">14</text>
<text x="1923.09" y="2659.19" text-anchor="middle" font-size="24.89">21</text>
<text x="2036.89" y="2659.19" text-anchor="middle" font-size="24.89">28</text>
<text x="1784.55" y="2254.90" font-size="31.04">Pat15</text>
<text x="1793.88" y="2702.60" font-size="27.13">Days</text>
<text transform="translate(1497.80 2459.45) rotate(-90)" x="0" y="0" text-anchor="middle" font-size="29.87">cells(N/uL)</text>
<polyline points="1646.73,2622.10 1695.50,2618.46 1744.27,2344.16 1793.04,2541.82 1841.81,2580.72 1890.58,2598.03 1939.35,2613.25 1988.12,2611.43 2036.89,2613.25" fill="none" stroke="#1f5e9f" stroke-width="2.7" stroke-linejoin="round"/>
<rect x="1640.14" y="2615.51" width="13.18" height="13.18" fill="#2267b0"/>
<rect x="1688.91" y="2611.87" width="13.18" height="13.18" fill="#2267b0"/>
<rect x="1737.68" y="2337.58" width="13.18" height="13.18" fill="#2267b0"/>
<rect x="1786.45" y="2535.23" width="13.18" height="13.18" fill="#2267b0"/>
<rect x="1835.22" y="2574.13" width="13.18" height="13.18" fill="#2267b0"/>
<rect x="1883.99" y="2591.44" width="13.18" height="13.18" fill="#2267b0"/>
<rect x="1932.76" y="2606.66" width="13.18" height="13.18" fill="#2267b0"/>
<rect x="1981.53" y="2604.84" width="13.18" height="13.18" fill="#2267b0"/>
<rect x="2030.30" y="2606.66" width="13.18" height="13.18" fill="#2267b0"/>
<polyline points="1646.73,2622.10 1695.50,2618.46 1744.27,2591.91 1793.04,2614.68 1841.81,2620.28 1890.58,2620.80 1939.35,2622.10 1988.12,2620.28 2036.89,2620.80" fill="none" stroke="#9c2630" stroke-width="2.7" stroke-linejoin="round"/>
<circle cx="1646.73" cy="2622.10" r="6.30" fill="#ab2930"/>
<circle cx="1695.50" cy="2618.46" r="6.30" fill="#ab2930"/>
<circle cx="1744.27" cy="2591.91" r="6.30" fill="#ab2930"/>
<circle cx="1793.04" cy="2614.68" r="6.30" fill="#ab2930"/>
<circle cx="1841.81" cy="2620.28" r="6.30" fill="#ab2930"/>
<circle cx="1890.58" cy="2620.80" r="6.30" fill="#ab2930"/>
<circle cx="1939.35" cy="2622.10" r="6.30" fill="#ab2930"/>
<circle cx="1988.12" cy="2620.28" r="6.30" fill="#ab2930"/>
<circle cx="2036.89" cy="2620.80" r="6.30" fill="#ab2930"/>
</g>
</svg>
</body></html>
